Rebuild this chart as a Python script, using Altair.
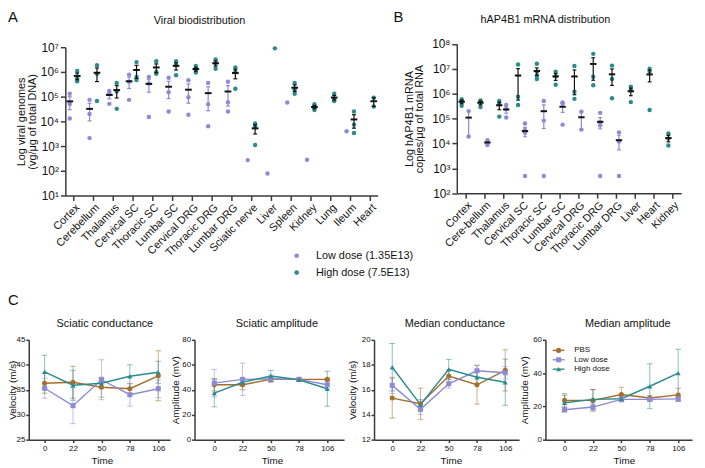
import json
import math
import altair as alt
import pandas as pd

FONT = "Liberation Sans"
W, H = 697, 460          # whole canvas (page margin 8px -> canvas = reference - 8)

PURPLE = "#8E8AD6"
TEAL = "#2A8B8E"
BROWN = "#A36F2A"
INK = "#111111"
AXIS = "#3a3a3a"

# ---------------- Panel A: viral genomes (vg/ug DNA) ----------------
organs_a = ["Cortex", "Cerebellum", "Thalamus", "Cervical SC", "Thoracic SC", "Lumbar SC",
            "Cervical DRG", "Thoracic DRG", "Lumbar DRG", "Sciatic nerve", "Liver", "Spleen",
            "Kidney", "Lung", "Ileum", "Heart"]
vg_low = [[1.3e5, 5e4, 1.3e4], [7.4e4, 2e4, 2.1e3], [1.7e5, 1.3e5, 5.1e4], [7.8e5, 4e5, 7.4e4],
          [6.3e5, 3.4e5, 1.5e4], [5.8e5, 1.5e5, 2.5e4], [4.6e5, 9.4e4, 1.85e4], [3.6e5, 4.9e4, 6.3e3],
          [4e5, 5.9e4, 2.5e4], [2.7e2], [78], [5.8e4], [2.8e2], [], [4e3], []]
vg_high = [[1.1e6, 5.5e5, 4.2e5], [1.85e6, 8.5e5, 6.7e4], [3.6e5, 1.6e5, 3.2e4], [2.5e6, 6.3e5, 4.7e5],
           [2.7e6, 1e6, 8.5e5], [2.7e6, 1.85e6, 7.4e5], [1.74e6, 1.24e6, 9.4e5], [3.2e6, 2.2e6, 1.35e6],
           [1.5e6, 1e6, 2.1e5], [8.2e3, 6.3e3, 1.1e3], [9e6], [3.6e5, 2e5, 1.3e5],
           [4.9e4, 3.6e4, 2.9e4], [1.3e5, 7.8e4, 6.7e4], [2.5e4, 7.4e3, 3.4e3], [9e4, 4e4]]

# ---------------- Panel B: hAP4B1 mRNA copies/ug RNA ----------------
organs_b = ["Cortex", "Cere-bellum", "Thalamus", "Cervical SC", "Thoracic SC", "Lumbar SC",
            "Cervical DRG", "Thoracic DRG", "Lumbar DRG", "Liver", "Heart", "Kidney"]
mrna_high = [[6e5, 5e5, 3.3e5], [5.3e5, 4.8e5, 2.9e5], [5.1e5, 4e5, 1.2e5], [1.5e7, 7.6e5, 3.5e5],
             [1.6e7, 7.6e6, 5.2e6, 3.9e6], [7.6e6, 5e6, 2.3e6], [1.3e7, 1.2e6, 6.2e5],
             [4e7, 4.8e6, 2.2e6], [1.35e7, 3.9e6, 6.6e5], [1.9e6, 1.4e6, 4.6e5],
             [1e7, 7.6e6, 2.2e5], [2.5e4, 1.6e4, 8.3e3]]
mrna_low = [[2e5, 1.9e4], [1.35e4, 1.07e4, 8.7e3], [3.5e5, 2.4e5, 1.1e5], [6.3e4, 3.5e4, 2.7e4, 490],
            [5.1e5, 8.3e4, 490], [4.4e5, 4e5, 5.7e4], [1.9e5, 3.6e4], [1.7e5, 7.2e4, 5.4e4, 490],
            [2.8e4, 1.2e4, 490], [], [], []]

# ---------------- Panel C: nerve conduction ----------------
times = ["0", "22", "50", "78", "106"]
groups = ["PBS", "Low dose", "High dose"]

sci_cond_mean = {"PBS": [36.3, 36.5, 35.5, 35.2, 37.8],
                 "Low dose": [35.3, 31.8, 37.0, 34.0, 35.2],
                 "High dose": [38.6, 35.9, 36.3, 37.7, 38.5]}
sci_cond_sem = {"PBS": [2.0, 3.2, 2.0, 1.0, 5.0],
                "Low dose": [2.0, 3.6, 4.0, 2.3, 1.8],
                "High dose": [3.3, 3.0, 1.0, 2.3, 2.2]}
sci_amp_mean = {"PBS": [44.0, 44.0, 48.3, 48.3, 48.3],
                "Low dose": [45.3, 48.3, 48.8, 48.3, 44.0],
                "High dose": [37.3, 46.0, 51.0, 48.0, 40.8]}
sci_amp_sem = {"PBS": [5.0, 4.0, 1.5, 1.0, 1.0],
               "Low dose": [11.0, 13.0, 3.0, 1.5, 3.0],
               "High dose": [11.0, 3.0, 4.5, 1.0, 14.0]}
med_cond_mean = {"PBS": [15.33, 14.88, 17.1, 16.4, 17.55],
                 "Low dose": [16.35, 14.43, 16.48, 17.52, 17.36],
                 "High dose": [17.8, 14.8, 17.63, 17.0, 16.6]}
med_cond_sem = {"PBS": [1.6, 1.25, 0.5, 1.55, 1.65],
                "Low dose": [0.65, 0.4, 0.35, 0.45, 0.5],
                "High dose": [1.9, 0.4, 0.8, 0.5, 1.85]}
med_amp_mean = {"PBS": [23.6, 23.6, 27.1, 25.0, 26.9],
                "Low dose": [18.0, 19.6, 24.2, 24.2, 24.5],
                "High dose": [22.2, 24.2, 24.6, 32.1, 40.0]}
med_amp_sem = {"PBS": [4.0, 6.5, 4.4, 1.5, 4.0],
               "Low dose": [1.5, 2.0, 1.0, 1.0, 1.2],
               "High dose": [4.5, 6.0, 1.0, 13.5, 14.3]}

SUPS = ["\u2070", "\u00b9", "\u00b2", "\u00b3", "\u2074", "\u2075", "\u2076", "\u2077", "\u2078"]
SUP_EXPR = "'10' + " + json.dumps(SUPS) + "[round(log(datum.value) / LN10)]"

SHAPES = ["circle", "square", "triangle-up"]
COLS = [BROWN, PURPLE, TEAL]


def tidy(organs, low, high):
    rows = []
    for dose, series in (("Low", low), ("High", high)):
        for i, vals in enumerate(series):
            for v in vals:
                rows.append({"organ": organs[i], "idx": i, "dose": dose, "value": v})
    return pd.DataFrame(rows)


def dot_panel(df, names, xdom, xrng, ydom, yrng, ytitle, ytitle_x, off_low, off_high, legend):
    xexpr = f"datum.idx + (datum.dose == 'Low' ? {off_low} : {off_high})"
    xs = alt.Scale(domain=xdom, range=xrng, nice=False, zero=False)
    ys = alt.Scale(type="log", domain=ydom, range=yrng, nice=False)
    lo_e, hi_e = int(round(math.log10(ydom[0]))), int(round(math.log10(ydom[1])))
    xax = alt.Axis(orient="bottom", offset=yrng[0] - H, values=list(range(len(names))),
                   labelExpr=json.dumps(names) + "[datum.value]", labelAngle=315, labelFontSize=11,
                   labelOverlap=False, labelFlush=False, labelPadding=1, tickSize=5, title=None)
    yax = alt.Axis(orient="left", offset=-xrng[0], values=[10 ** k for k in range(lo_e, hi_e + 1)],
                   labelExpr=SUP_EXPR, labelFontSize=12, labelOverlap=False, labelFlush=False,
                   tickSize=5, labelPadding=2, title=ytitle, titleX=ytitle_x - xrng[0],
                   titleY=(yrng[0] + yrng[1]) / 2, titleAngle=270, titleAlign="center",
                   titleBaseline="middle", titleFontSize=11, titleLineHeight=10.5)

    def X(f):
        return alt.X(f + ":Q", scale=xs, axis=xax)

    def Y(f):
        return alt.Y(f + ":Q", scale=ys, axis=yax)

    pts = alt.Chart(df).transform_calculate(xp=xexpr).mark_circle(size=20, opacity=1).encode(
        x=X("xp"), y=Y("value"),
        color=alt.Color("dose:N", scale=alt.Scale(domain=["Low", "High"], range=[PURPLE, TEAL]),
                        legend=legend))
    stats = (alt.Chart(df)
             .transform_aggregate(mean="mean(value)", sem="stderr(value)", n="count()",
                                  groupby=["idx", "dose"])
             .transform_filter("datum.n > 1")
             .transform_calculate(xp=xexpr)
             .transform_calculate(lo="datum.mean - datum.sem", hi="datum.mean + datum.sem",
                                  ca="datum.xp - 0.1", cb="datum.xp + 0.1",
                                  ma="datum.xp - 0.17", mb="datum.xp + 0.17"))
    col = alt.condition("datum.dose == 'Low'", alt.value(PURPLE), alt.value(INK))
    err = stats.mark_rule(strokeWidth=1.2).encode(x=X("xp"), y=Y("lo"), y2="hi:Q", color=col)
    cap_lo = stats.mark_rule(strokeWidth=1.2).encode(x=X("ca"), x2="cb:Q", y=Y("lo"), color=col)
    cap_hi = stats.mark_rule(strokeWidth=1.2).encode(x=X("ca"), x2="cb:Q", y=Y("hi"), color=col)
    mean = stats.mark_rule(strokeWidth=2, color=INK).encode(x=X("ma"), x2="mb:Q", y=Y("mean"))
    return alt.layer(pts, err, cap_lo, cap_hi, mean)


def line_panel(means, sems, xdom, xrng, ydom, yvals, ytitle, ytitle_x, time_x):
    rows = []
    for g in groups:
        for i in range(len(times)):
            rows.append({"group": g, "t": i, "mean": means[g][i], "sem": sems[g][i]})
    df = pd.DataFrame(rows)
    yrng = [434, 333]
    xs = alt.Scale(domain=xdom, range=xrng, nice=False, zero=False)
    ys = alt.Scale(domain=ydom, range=yrng, nice=False, zero=False)
    xax = alt.Axis(orient="bottom", offset=yrng[0] - H, values=list(range(len(times))),
                   labelExpr=json.dumps(times) + "[datum.value]", labelFontSize=8, tickSize=3,
                   labelPadding=2, labelFlush=False, labelOverlap=False, title="Time",
                   titleFontSize=10, titleX=time_x, titleY=21, titleAlign="center",
                   titleBaseline="middle")
    yax = alt.Axis(orient="left", offset=-xrng[0], values=yvals, labelFontSize=8, tickSize=3,
                   labelPadding=1, labelFlush=False, labelOverlap=False, title=ytitle,
                   titleFontSize=10, titleX=ytitle_x - xrng[0], titleY=(yrng[0] + yrng[1]) / 2,
                   titleAngle=270, titleAlign="center", titleBaseline="middle")

    def X(f):
        return alt.X(f + ":Q", scale=xs, axis=xax)

    def Y(f):
        return alt.Y(f + ":Q", scale=ys, axis=yax)

    cscale = alt.Scale(domain=groups, range=COLS)
    base = alt.Chart(df).transform_calculate(lo="datum.mean - datum.sem", hi="datum.mean + datum.sem",
                                             ca="datum.t - 0.1", cb="datum.t + 0.1")
    ccol = alt.Color("group:N", scale=cscale, legend=None)
    err = base.mark_rule(strokeWidth=1, opacity=0.55).encode(x=X("t"), y=Y("lo"), y2="hi:Q", color=ccol)
    cap_lo = base.mark_rule(strokeWidth=1, opacity=0.55).encode(x=X("ca"), x2="cb:Q", y=Y("lo"), color=ccol)
    cap_hi = base.mark_rule(strokeWidth=1, opacity=0.55).encode(x=X("ca"), x2="cb:Q", y=Y("hi"), color=ccol)
    lines = base.mark_line(strokeWidth=1.4).encode(x=X("t"), y=Y("mean"), color=ccol)
    layers = [err, cap_lo, cap_hi, lines]
    for g, shp, c in zip(groups, SHAPES, COLS):
        layers.append(base.transform_filter(f"datum.group == '{g}'")
                      .mark_point(filled=True, shape=shp, size=26, color=c, opacity=1)
                      .encode(x=X("t"), y=Y("mean")))
    return alt.layer(*layers)


def legend_c(x_line, x_text, y_rows):
    """Key for panel C: short line + marker + label per group (rows placed by a point scale)."""
    ldf = pd.DataFrame({"group": groups})
    ys = alt.Scale(type="point", domain=groups, range=y_rows, padding=0)
    Y = alt.Y("group:N", scale=ys, axis=None)
    segs = alt.Chart(ldf).mark_rule(strokeWidth=1.4).encode(
        y=Y, x=alt.value(x_line[0]), x2=alt.value(x_line[1]),
        color=alt.Color("group:N", scale=alt.Scale(domain=groups, range=COLS), legend=None))
    layers = [segs]
    for g, shp, c in zip(groups, SHAPES, COLS):
        layers.append(alt.Chart(ldf).transform_filter(f"datum.group == '{g}'")
                      .mark_point(filled=True, shape=shp, size=26, color=c, opacity=1)
                      .encode(y=Y, x=alt.value((x_line[0] + x_line[1]) / 2)))
    labels = alt.Chart(ldf).mark_text(align="left", baseline="middle", fontSize=8, font=FONT,
                                      color=INK).encode(y=Y, x=alt.value(x_text), text="group:N")
    layers.append(labels)
    return alt.layer(*layers)


def text(txt, x, y, size, align="center", baseline="middle"):
    return alt.Chart(pd.DataFrame({"t": [txt]})).mark_text(
        fontSize=size, align=align, baseline=baseline, font=FONT, color=INK).encode(
        text="t:N", x=alt.value(x), y=alt.value(y))


legA = alt.Legend(orient="none", legendX=286.5, legendY=242.5, title=None, symbolSize=22,
                  labelFontSize=11, labelOffset=14, rowPadding=5, padding=0,
                  labelExpr="datum.label == 'Low' ? 'Low dose (1.35E13)' : 'High dose (7.5E13)'")

panelA = dot_panel(tidy(organs_a, vg_low, vg_high), organs_a, [-0.4, 15.4], [58, 374],
                   [10, 1e7], [187, 37], ["Log viral genomes", "(vg/\u03bcg of total DNA)"], 14,
                   -0.175, 0.2, legA)
panelB = dot_panel(tidy(organs_b, mrna_low, mrna_high), organs_b, [-0.47, 11.47], [454, 681],
                   [1e2, 1e8], [184.7, 33.7], ["Log hAP4B1 mRNA", "copies/\u03bcg of total RNA"], 406,
                   0.16, -0.21, None)

C1 = line_panel(sci_cond_mean, sci_cond_sem, [-0.557, 4.417], [21, 164], [25, 45],
                [25, 30, 35, 40, 45], "Velocity (m/s)", 5, 95)
C2 = line_panel(sci_amp_mean, sci_amp_sem, [-0.70, 4.595], [188.7, 340], [0, 80],
                [0, 20, 40, 60, 80], "Amplitude (mV)", 169, 267)
C3 = line_panel(med_cond_mean, med_cond_sem, [-0.644, 4.49], [370.3, 517], [12, 20],
                [12, 14, 16, 18, 20], "Velocity (m/s)", 349, 448)
C4 = line_panel(med_amp_mean, med_amp_sem, [-0.671, 4.487], [543.7, 692], [0, 60],
                [0, 20, 40, 60], "Amplitude (mV)", 523, 623)
keyC = legend_c([551, 563], 572.7, [343.7, 362.7])

texts = [
    text("A", 0, 11.5, 15, "left", "alphabetic"),
    text("B", 390, 11.5, 15, "left", "alphabetic"),
    text("C", 0, 298, 15, "left", "alphabetic"),
    text("Viral biodistribution", 193.7, 10.5, 11),
    text("hAP4B1 mRNA distribution", 543.7, 9, 11),
    text("Sciatic conductance", 98, 317, 11),
    text("Sciatic amplitude", 272, 317, 11),
    text("Median conductance", 452, 317, 11),
    text("Median amplitude", 627, 317, 11),
]

chart = (alt.layer(panelA, panelB, C1, C2, C3, C4, keyC, *texts)
         .resolve_scale(x="independent", y="independent", color="independent")
         .properties(width=W, height=H, padding=0, autosize=alt.AutoSizeParams(type="none"))
         .configure_view(stroke=None)
         .configure_axis(grid=False, domainColor=AXIS, tickColor=AXIS, domainWidth=1.5, tickWidth=1.5,
                         labelFont=FONT, titleFont=FONT, labelColor=INK, titleColor=INK,
                         titleFontWeight="normal")
         .configure_legend(labelFont=FONT, labelColor=INK)
         .configure_text(font=FONT))

chart.save("out.html", embed_options={"renderer": "svg", "actions": False})
